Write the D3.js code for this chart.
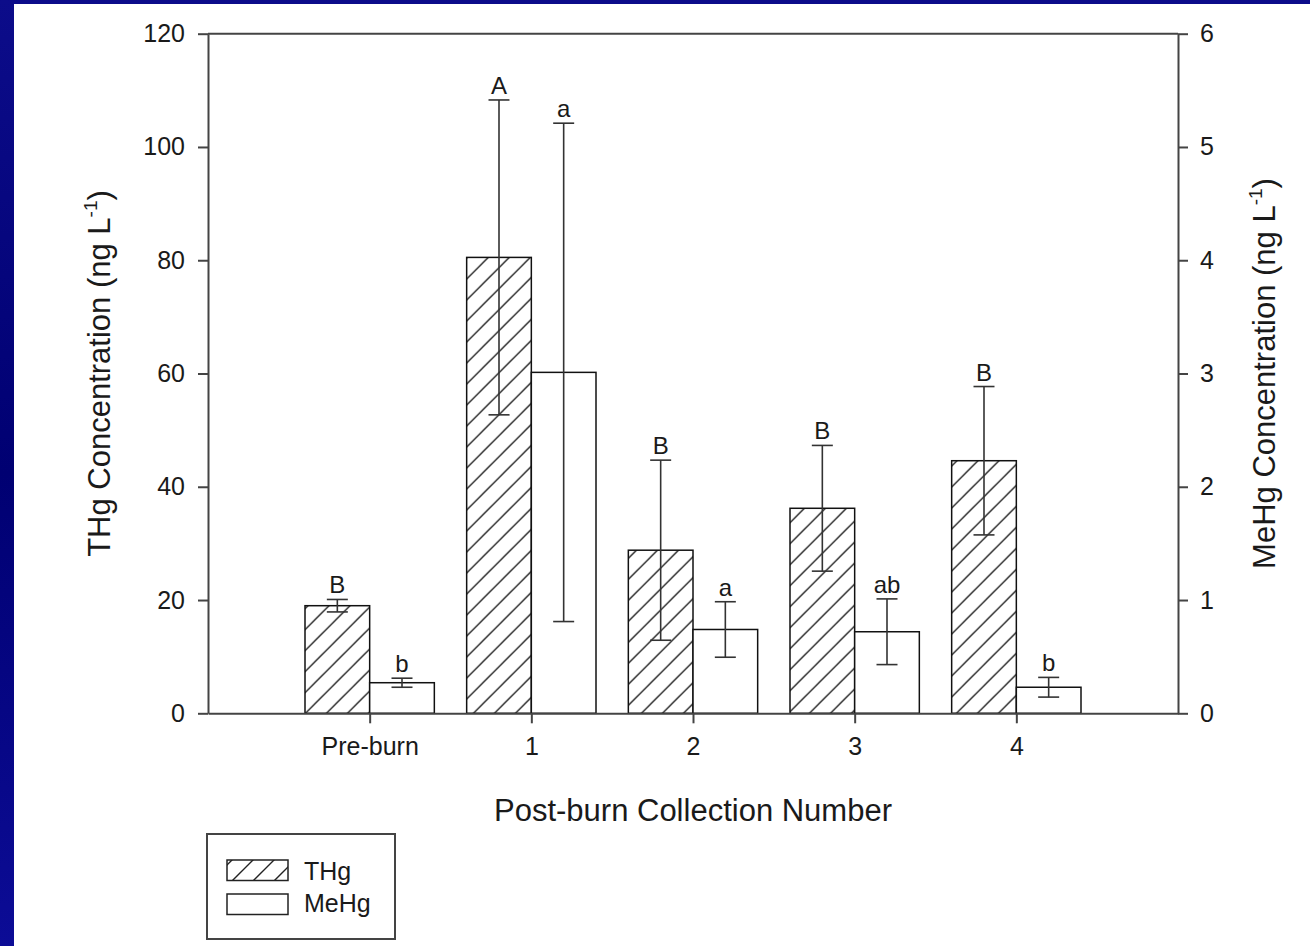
<!DOCTYPE html>
<html>
<head>
<meta charset="utf-8">
<script src="https://cdn.jsdelivr.net/npm/d3@7"></script>
<style>
  html, body { margin: 0; padding: 0; background: #00007a; }
  svg { display: block; }
</style>
</head>
<body>
<div class="chart"></div>
<script>
const categories = ['Pre-burn', '1', '2', '3', '4'];
const thgMean = [19.0, 80.5, 28.8, 36.2, 44.6];
const thgErr = [1.1, 27.8, 15.9, 11.1, 13.1];
const mehgMean = [0.27, 3.01, 0.74, 0.72, 0.23];
const mehgErr = [0.04, 2.2, 0.245, 0.29, 0.087];
const thgLetters = ['B', 'A', 'B', 'B', 'B'];
const mehgLetters = ['b', 'a', 'a', 'ab', 'b'];
const thgTicks = [0, 20, 40, 60, 80, 100, 120];
const mehgTicks = [0, 1, 2, 3, 4, 5, 6];

const chartWidth = 1310;
const chartHeight = 946;

const margin = {
  left: 208,
  right: 132,
  top: 33.7,
  bottom: 232.7,
};

const width = chartWidth - margin.left - margin.right;
const height = chartHeight - margin.top - margin.bottom;

const font = '"Liberation Sans", Arial, sans-serif';
const ink = '#1a1a1a';
const axisInk = '#444';

const root = d3.select('.chart')
  .append('svg')
  .attr('width', chartWidth)
  .attr('height', chartHeight);

const defs = root.append('defs');

const grad = defs.append('linearGradient')
  .attr('id', 'bg')
  .attr('x1', 0).attr('y1', 0)
  .attr('x2', 0).attr('y2', 1);
grad.append('stop').attr('offset', '0%').attr('stop-color', '#0c0c8a');
grad.append('stop').attr('offset', '50%').attr('stop-color', '#000072');
grad.append('stop').attr('offset', '100%').attr('stop-color', '#0c0c96');

// diagonal hatch for THg
const hatch = defs.append('pattern')
  .attr('id', 'hatch')
  .attr('patternUnits', 'userSpaceOnUse')
  .attr('width', 21)
  .attr('height', 21);
hatch.append('rect')
  .attr('width', 21)
  .attr('height', 21)
  .attr('fill', 'white');
hatch.append('path')
  .attr('d', 'M-5,5 L5,-5 M0,21 L21,0 M16,26 L26,16')
  .attr('stroke', '#222')
  .attr('stroke-width', 1.4);

root.append('rect')
  .attr('width', chartWidth)
  .attr('height', chartHeight)
  .attr('fill', 'url(#bg)');

root.append('rect')
  .attr('x', 14)
  .attr('y', 4)
  .attr('width', chartWidth - 14)
  .attr('height', chartHeight - 4)
  .attr('fill', 'white');

const svg = root.append('g')
  .attr('transform', `translate(${margin.left}, ${margin.top})`);

const xScale = d3.scalePoint()
  .domain(categories)
  .range([0, width])
  .padding(1);

const barWidth = xScale.step() * 0.4;

const yLeft = d3.scaleLinear()
  .domain([0, 120])
  .range([height, 0]);

const yRight = d3.scaleLinear()
  .domain([0, 6])
  .range([height, 0]);

const rows = categories.map((c, i) => ({
  cat: c,
  thg: thgMean[i],
  thgErr: thgErr[i],
  mehg: mehgMean[i],
  mehgErr: mehgErr[i],
  thgLetter: thgLetters[i],
  mehgLetter: mehgLetters[i]
}));

// THg bars
svg.append('g')
  .selectAll('rect')
  .data(rows)
  .enter()
  .append('rect')
  .attr('x', d => xScale(d.cat) - barWidth)
  .attr('y', d => yLeft(d.thg))
  .attr('width', barWidth)
  .attr('height', d => height - yLeft(d.thg))
  .attr('fill', 'url(#hatch)')
  .attr('stroke', '#111')
  .attr('stroke-width', 1.5);

// MeHg bars
svg.append('g')
  .selectAll('rect')
  .data(rows)
  .enter()
  .append('rect')
  .attr('x', d => xScale(d.cat))
  .attr('y', d => yRight(d.mehg))
  .attr('width', barWidth)
  .attr('height', d => height - yRight(d.mehg))
  .attr('fill', 'white')
  .attr('stroke', '#111')
  .attr('stroke-width', 1.5);

const cap = 10.5;

const drawErrors = (data, cx, y, mean, err, letter) => {
  const g = svg.append('g')
    .attr('stroke', '#333')
    .attr('stroke-width', 1.6)
    .attr('fill', 'none');
  g.selectAll('.stem')
    .data(data)
    .enter()
    .append('line')
    .attr('x1', cx).attr('x2', cx)
    .attr('y1', d => y(mean(d) + err(d)))
    .attr('y2', d => y(mean(d) - err(d)));
  g.selectAll('.top')
    .data(data)
    .enter()
    .append('line')
    .attr('x1', d => cx(d) - cap).attr('x2', d => cx(d) + cap)
    .attr('y1', d => y(mean(d) + err(d)))
    .attr('y2', d => y(mean(d) + err(d)));
  g.selectAll('.bottom')
    .data(data)
    .enter()
    .append('line')
    .attr('x1', d => cx(d) - cap).attr('x2', d => cx(d) + cap)
    .attr('y1', d => y(mean(d) - err(d)))
    .attr('y2', d => y(mean(d) - err(d)));

  svg.append('g')
    .selectAll('text')
    .data(data)
    .enter()
    .append('text')
    .attr('x', cx)
    .attr('y', d => y(mean(d) + err(d)) - 6)
    .attr('text-anchor', 'middle')
    .attr('font-family', font)
    .attr('font-size', '24px')
    .attr('fill', ink)
    .text(letter);
};

drawErrors(rows, d => xScale(d.cat) - barWidth / 2, yLeft, d => d.thg, d => d.thgErr, d => d.thgLetter);
drawErrors(rows, d => xScale(d.cat) + barWidth / 2, yRight, d => d.mehg, d => d.mehgErr, d => d.mehgLetter);

// frame top line
svg.append('line')
  .attr('x1', 0).attr('x2', width)
  .attr('y1', 0).attr('y2', 0)
  .attr('stroke', axisInk)
  .attr('stroke-width', 2);

const styleAxis = (g, size) => {
  g.select('.domain').attr('stroke', axisInk).attr('stroke-width', 2);
  g.selectAll('.tick line').attr('stroke', axisInk).attr('stroke-width', 2);
  g.selectAll('.tick text')
    .attr('font-family', font)
    .attr('font-size', size)
    .attr('fill', ink);
};

const xAxis = d3.axisBottom(xScale)
  .tickSizeInner(10)
  .tickSizeOuter(0)
  .tickPadding(14);
svg.append('g')
  .attr('transform', `translate(0, ${height})`)
  .call(xAxis)
  .call(g => styleAxis(g, '25px'));

const leftAxis = d3.axisLeft(yLeft)
  .tickValues(thgTicks)
  .tickFormat(d3.format('d'))
  .tickSizeInner(10)
  .tickSizeOuter(0)
  .tickPadding(13);
svg.append('g')
  .call(leftAxis)
  .call(g => styleAxis(g, '25px'));

const rightAxis = d3.axisRight(yRight)
  .tickValues(mehgTicks)
  .tickFormat(d3.format('d'))
  .tickSizeInner(10)
  .tickSizeOuter(0)
  .tickPadding(12);
svg.append('g')
  .attr('transform', `translate(${width}, 0)`)
  .call(rightAxis)
  .call(g => styleAxis(g, '25px'));

// axis titles
root.append('text')
  .attr('x', margin.left + width / 2)
  .attr('y', 821)
  .attr('text-anchor', 'middle')
  .attr('font-family', font)
  .attr('font-size', '31px')
  .attr('fill', ink)
  .text('Post-burn Collection Number');

const yTitle = (x, label) => {
  const t = root.append('text')
    .attr('transform', `translate(${x}, ${margin.top + height / 2}) rotate(-90)`)
    .attr('text-anchor', 'middle')
    .attr('font-family', font)
    .attr('font-size', '31px')
    .attr('fill', ink);
  t.append('tspan').text(label + ' (ng L');
  t.append('tspan').attr('font-size', '19px').attr('dy', -13).text('-1');
  t.append('tspan').attr('dy', 13).text(')');
};
yTitle(110, 'THg Concentration');
yTitle(1275, 'MeHg Concentration');

// legend
const legend = root.append('g');
legend.append('rect')
  .attr('x', 207)
  .attr('y', 834)
  .attr('width', 188)
  .attr('height', 105)
  .attr('fill', 'white')
  .attr('stroke', '#444')
  .attr('stroke-width', 2);

const legendItems = [
  { label: 'THg', fill: 'url(#hatch)' },
  { label: 'MeHg', fill: 'white' }
];
legend.selectAll('.swatch')
  .data(legendItems)
  .enter()
  .append('rect')
  .attr('x', 227)
  .attr('y', (d, i) => 860 + i * 34)
  .attr('width', 61)
  .attr('height', 20.5)
  .attr('fill', d => d.fill)
  .attr('stroke', '#222')
  .attr('stroke-width', 1.5);
legend.selectAll('.label')
  .data(legendItems)
  .enter()
  .append('text')
  .attr('x', 304)
  .attr('y', (d, i) => 880 + i * 32)
  .attr('font-family', font)
  .attr('font-size', '25px')
  .attr('fill', ink)
  .text(d => d.label);
</script>
</body>
</html>
